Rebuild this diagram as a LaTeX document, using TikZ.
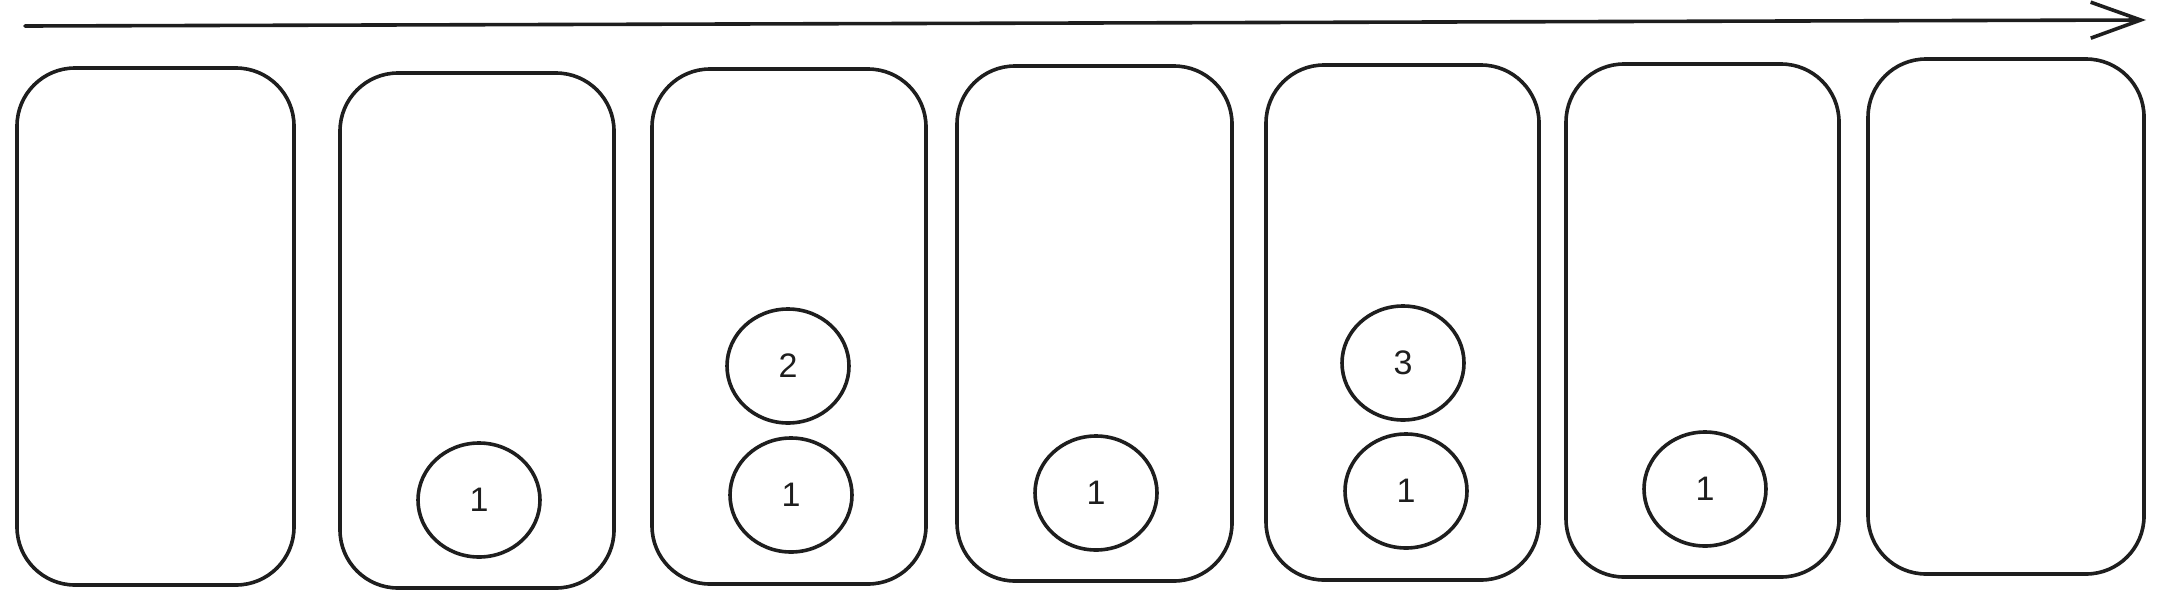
\documentclass[tikz,border=0pt]{standalone}
\usepackage{fontspec}
\setmainfont{Liberation Sans}
\usetikzlibrary{shapes.geometric,arrows.meta}
\definecolor{ink}{HTML}{1E1E1E}
\tikzset{
  slot/.style={draw=ink, line width=3.6pt, rounded corners=58pt, inner sep=0pt},
  ball/.style={draw=ink, line width=3.6pt, ellipse, minimum width=122pt, minimum height=114pt, inner sep=0pt, font=\fontsize{34}{34}\selectfont, text=ink},
  timeline/.style={draw=ink, line width=3.6pt, line cap=round, -{Straight Barb[length=50pt,width=36pt,line width=3.6pt]}}
}
\begin{document}
\begin{tikzpicture}[x=1pt,y=-1pt]
\useasboundingbox (0,0) rectangle (2165,608);
\coordinate (start) at (25,26);
\coordinate (end) at (2146,20);
\draw[timeline] (start) -- (end);
\foreach \n/\xa/\ya/\xb/\yb in {1/17/68/294/585, 2/340/73/614/588, 3/652/69/926/584, 4/957/66/1232/581, 5/1266/65/1539/580, 6/1566/64/1839/577, 7/1868/59/2144/574}{
  \node[slot, minimum width={\xb-\xa}, minimum height={\yb-\ya}] (box\n) at ({(\xa+\xb)/2},{(\ya+\yb)/2}) {};
}
\node[ball] (b2a) at (479,500) {1};
\node[ball] (b3b) at (788,366) {2};
\node[ball] (b3a) at (791,495) {1};
\node[ball] (b4a) at (1096,493) {1};
\node[ball] (b5b) at (1403,363) {3};
\node[ball] (b5a) at (1406,491) {1};
\node[ball] (b6a) at (1705,489) {1};
\end{tikzpicture}
\end{document}
